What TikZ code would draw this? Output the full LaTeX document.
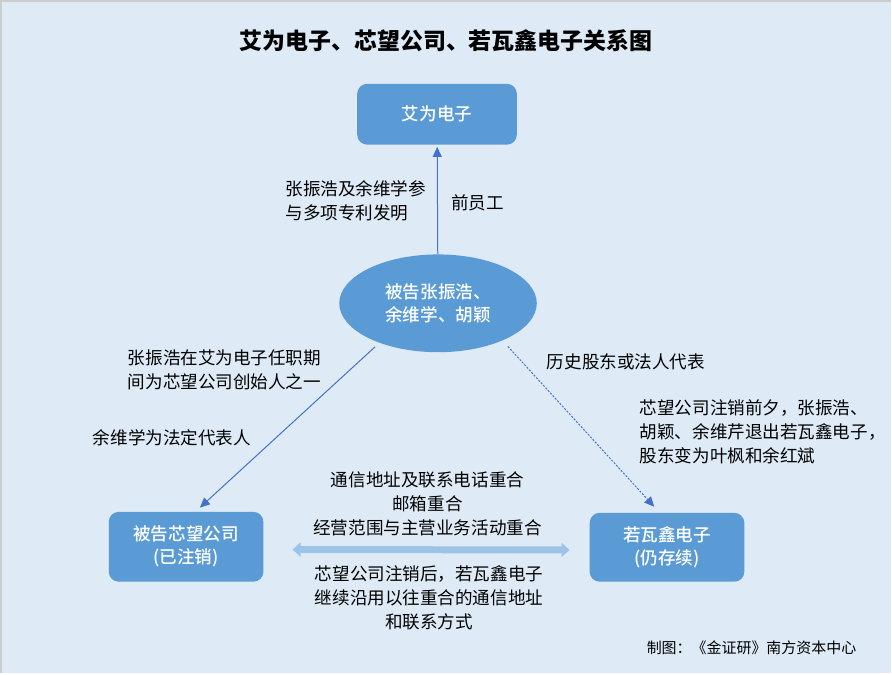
\documentclass[tikz,border=0pt]{standalone}
\usepackage{fontspec}
\setmainfont{Noto Sans CJK SC}
\newfontfamily\boxfont{Noto Sans CJK SC Medium}
\usepackage{tikz}
\usetikzlibrary{arrows.meta, shapes.geometric}

\definecolor{bgblue}{HTML}{DEEBF7}
\definecolor{boxblue}{HTML}{5B9BD5}
\definecolor{lineblue}{HTML}{4472C4}
\definecolor{barblue}{HTML}{9DC3E6}

\begin{document}
\begin{tikzpicture}[x=1pt, y=-1pt, >={Triangle[length=10pt, width=9pt]},
		firm/.style={rectangle, rounded corners=10pt, fill=boxblue, text=white, align=center, font=\fontsize{17.6}{23}\selectfont\boxfont},
		people/.style={ellipse, fill=boxblue, text=white, align=center, inner sep=0pt, minimum width=198pt, minimum height=98pt, font=\fontsize{17.6}{23}\selectfont\boxfont},
		note/.style={inner sep=0pt, align=left, anchor=west, font=\fontsize{17.6}{24}\selectfont},
		link/.style={->, draw=lineblue, line width=1pt},
		bar/.style={{Triangle[length=8pt, width=14pt]}-{Triangle[length=8pt, width=14pt]}, draw=barblue, line width=7pt}]
			\fill[bgblue] (0, 0) rectangle (892, 674);
			\draw[black!20, line width=2pt] (0, 674) -- (0, 0) -- (892, 0);

			\node[font=\fontsize{23}{28}\selectfont\bfseries]	(ttl)	at (446, 40)	{艾为电子、芯望公司、若瓦鑫电子关系图};

			\node[firm, minimum width=160pt, minimum height=61pt]	(aw)	at (437, 113.5)	{艾为电子};
			\node[people]										(emp)	at (438, 303)	{被告张振浩、\\余维学、胡颖};
			\node[firm, minimum width=155pt, minimum height=70pt]	(xw)	at (185.5, 547)	{被告芯望公司\\(已注销)};
			\node[firm, minimum width=155pt, minimum height=69pt]	(rw)	at (667.5, 547.5)	{若瓦鑫电子\\(仍存续)};

			\node[note]	(pat)	at (285, 200)	{张振浩及余维学参\\与多项专利发明};
			\node[note]	(ex)	at (451, 202)	{前员工};
			\node[note]	(fnd)	at (127, 370)	{张振浩在艾为电子任职期\\间为芯望公司创始人之一};
			\node[note]	(rep)	at (92, 438)	{余维学为法定代表人};
			\node[note]	(hist)	at (547, 362)	{历史股东或法人代表};
			\node[note]	(quit)	at (640, 432)	{芯望公司注销前夕，张振浩、\\胡颖、余维芹退出若瓦鑫电子，\\股东变为叶枫和余红斌};
			\node[note, anchor=center, align=center]	(same)	at (427.5, 504)	{通信地址及联系电话重合\\邮箱重合\\经营范围与主营业务活动重合};
			\node[note, anchor=center, align=center]	(keep)	at (429, 598.5)	{芯望公司注销后，若瓦鑫电子\\继续沿用以往重合的通信地址\\和联系方式};
			\node[note, font=\fontsize{15}{18}\selectfont]	(src)	at (647, 648)	{制图：《金证研》南方资本中心};

			\path	(emp) edge[link, shorten >=2pt] (aw)
					(emp.214) edge[link, shorten <=6pt, shorten >=6pt] (xw.75)
					(emp.330) edge[link, dash pattern=on 2pt off 1.5pt, shorten <=8pt, shorten >=8pt] (rw.102)
					(xw.-2) edge[bar, shorten <=29pt, shorten >=20pt] (rw.182);
		\end{tikzpicture}
\end{document}
